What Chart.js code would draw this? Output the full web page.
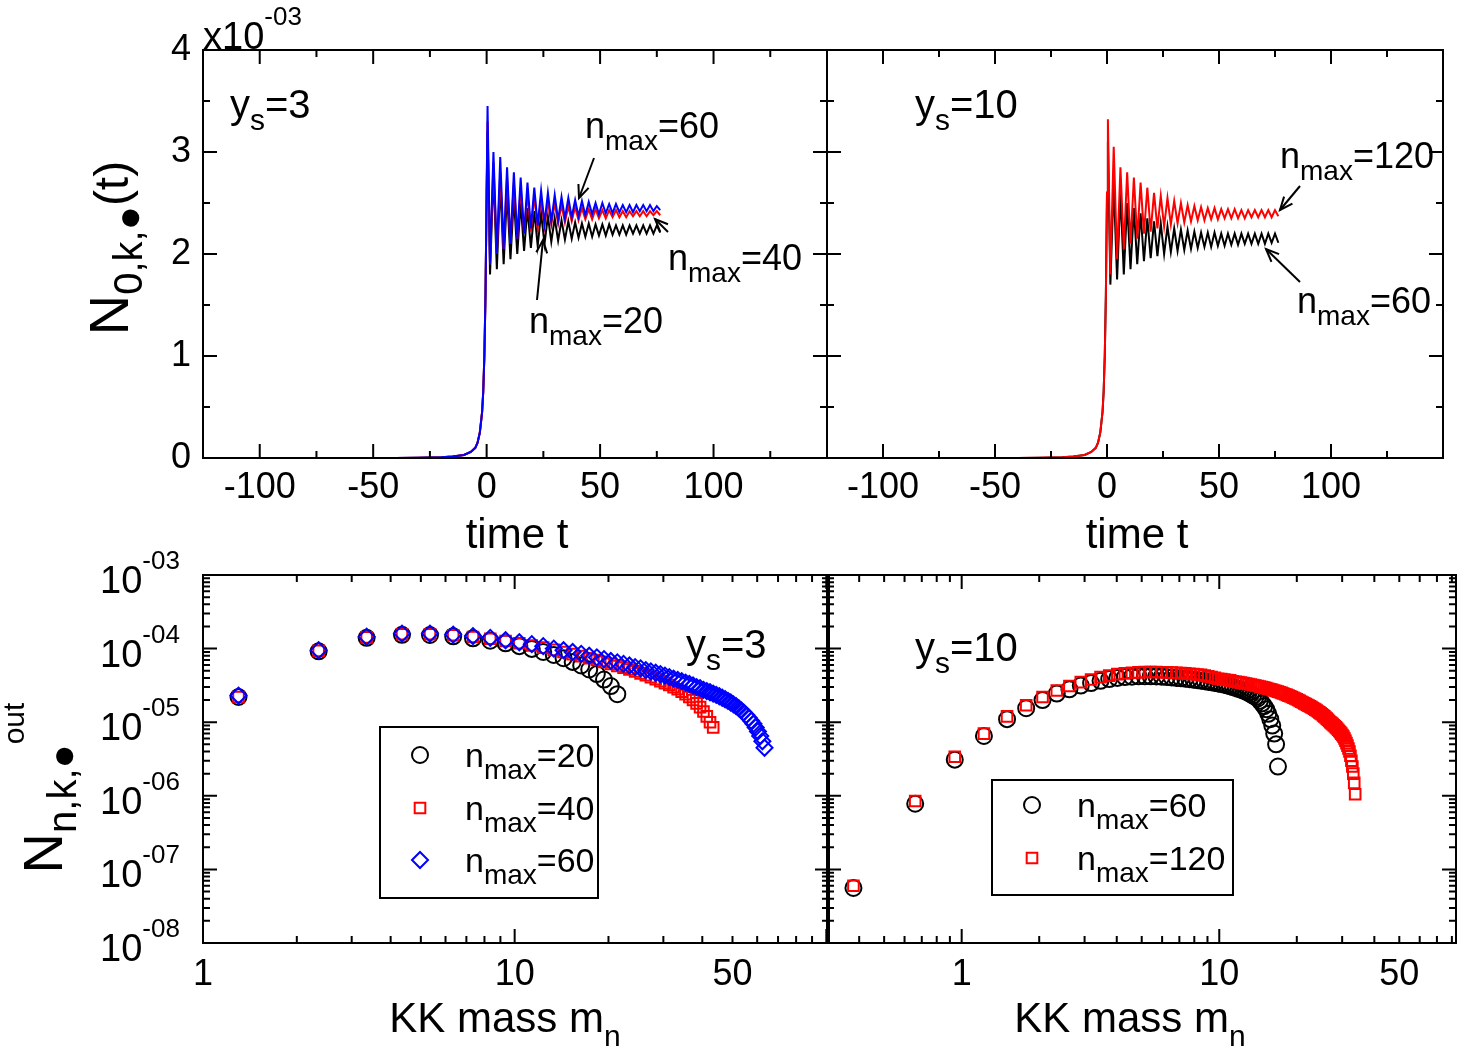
<!DOCTYPE html>
<html><head><meta charset="utf-8">
<script src="https://cdn.jsdelivr.net/npm/chart.js@4"></script>
<style>
body{margin:0;background:#fff;width:1458px;height:1056px;position:relative;overflow:hidden}
canvas{position:absolute}
</style></head><body>
<canvas id="tl" width="830" height="560" style="left:0;top:0"></canvas>
<canvas id="tr" width="658" height="560" style="left:800px;top:0"></canvas>
<canvas id="bl" width="839" height="536" style="left:0;top:520px"></canvas>
<canvas id="br" width="666" height="536" style="left:800px;top:520px"></canvas>
<script>
// ---------- DATA ----------
const tPre = [-125,-60,-40,-30,-20,-15,-10,-7,-5,-4,-3,-2,-1.5,-1,-0.5,0];
const risePre = [0,0,0.001,0.003,0.008,0.015,0.03,0.06,0.1,0.15,0.25,0.45,0.65,1.0,1.6,2.6];
const tPost = [0.4,1.5,3,4.5,6,7.5,9,10.5,12,13.5,15,16.5,18,19.5,21,22.5,24,25.5,27,28.5,30,31.5,33,34.5,36,37.5,39,40.5,42,43.5,45,46.5,48,49.5,51,52.5,54,55.5,57,58.5,60,61.5,63,64.5,66,67.5,69,70.5,72,73.5,75,76.5];
// values in units of 1e-3
const ys3_n60 = [3.45,1.9,3.0,2.0,2.95,2.05,2.85,2.1,2.8,2.15,2.75,2.2,2.7,2.25,2.65,2.28,2.62,2.3,2.6,2.32,2.58,2.33,2.56,2.35,2.55,2.36,2.53,2.37,2.52,2.38,2.51,2.39,2.5,2.39,2.5,2.4,2.49,2.4,2.49,2.41,2.48,2.41,2.48,2.41,2.48,2.42,2.48,2.42,2.48,2.42,2.47,2.43];
const ys3_n40 = [3.3,1.9,2.9,2.0,2.8,2.05,2.75,2.1,2.7,2.15,2.65,2.2,2.6,2.22,2.57,2.25,2.55,2.27,2.52,2.29,2.5,2.3,2.48,2.31,2.47,2.32,2.46,2.33,2.45,2.34,2.44,2.34,2.44,2.35,2.43,2.35,2.43,2.36,2.43,2.36,2.42,2.36,2.42,2.37,2.42,2.37,2.42,2.37,2.42,2.38,2.42,2.38];
const ys3_n20 = [3.2,1.8,2.8,1.85,2.7,1.9,2.6,1.95,2.55,2.0,2.5,2.03,2.45,2.06,2.42,2.08,2.4,2.1,2.37,2.12,2.35,2.13,2.33,2.14,2.32,2.15,2.31,2.16,2.3,2.17,2.3,2.17,2.29,2.18,2.29,2.18,2.29,2.19,2.28,2.19,2.28,2.19,2.28,2.2,2.28,2.2,2.28,2.2,2.28,2.2,2.28,2.21];
const ys10_n120 = [3.32,1.8,3.05,1.95,2.85,2.05,2.8,2.1,2.75,2.15,2.7,2.2,2.65,2.22,2.6,2.25,2.57,2.27,2.55,2.29,2.52,2.3,2.5,2.31,2.48,2.32,2.47,2.33,2.46,2.33,2.45,2.34,2.45,2.34,2.44,2.35,2.44,2.35,2.44,2.35,2.43,2.35,2.43,2.36,2.43,2.36,2.43,2.36,2.43,2.36,2.43,2.37];
const ys10_n60 = [3.1,1.7,2.7,1.75,2.6,1.8,2.5,1.85,2.45,1.9,2.4,1.93,2.35,1.96,2.32,1.98,2.3,2.0,2.27,2.02,2.25,2.03,2.24,2.04,2.23,2.05,2.22,2.06,2.21,2.07,2.21,2.07,2.21,2.08,2.2,2.08,2.2,2.09,2.2,2.09,2.2,2.1,2.2,2.1,2.2,2.1,2.2,2.1,2.2,2.11,2.2,2.11];

const mass3 = [1.3,2.35,3.35,4.35,5.35,6.35,7.35,8.35,9.35,10.35,11.35,12.35,13.35,14.35,15.35,16.35,17.35,18.35,19.35,20.35,21.35,22.35,23.35,24.35,25.35,26.35,27.35,28.35,29.35,30.35,31.35,32.35,33.35,34.35,35.35,36.35,37.35,38.35,39.35,40.35,41.35,42.35,43.35,44.35,45.35,46.35,47.35,48.35,49.35,50.35,51.35,52.35,53.35,54.35,55.35,56.35,57.35,58.35,59.35,60.35,61.35,62.35,63.35];
const out3_n60 = [2.3e-5,9.5e-5,1.45e-4,1.6e-4,1.6e-4,1.55e-4,1.48e-4,1.4e-4,1.3e-4,1.22e-4,1.15e-4,1.08e-4,1.0e-4,9.5e-5,9.0e-5,8.5e-5,8.0e-5,7.6e-5,7.2e-5,6.8e-5,6.5e-5,6.2e-5,5.9e-5,5.6e-5,5.4e-5,5.1e-5,4.9e-5,4.7e-5,4.5e-5,4.3e-5,4.1e-5,3.9e-5,3.75e-5,3.6e-5,3.45e-5,3.3e-5,3.15e-5,3.0e-5,2.9e-5,2.75e-5,2.65e-5,2.55e-5,2.45e-5,2.35e-5,2.25e-5,2.15e-5,2.05e-5,1.95e-5,1.85e-5,1.75e-5,1.65e-5,1.55e-5,1.45e-5,1.35e-5,1.25e-5,1.15e-5,1.05e-5,9.5e-6,8.5e-6,7.5e-6,6.5e-6,5.5e-6,4.5e-6];
const out3_n40 = [2.2e-5,9.3e-5,1.42e-4,1.57e-4,1.57e-4,1.52e-4,1.44e-4,1.36e-4,1.27e-4,1.18e-4,1.1e-4,1.03e-4,9.6e-5,9.0e-5,8.4e-5,7.9e-5,7.4e-5,7.0e-5,6.6e-5,6.2e-5,5.8e-5,5.5e-5,5.2e-5,4.9e-5,4.6e-5,4.35e-5,4.1e-5,3.85e-5,3.6e-5,3.4e-5,3.2e-5,3.0e-5,2.8e-5,2.6e-5,2.4e-5,2.2e-5,2.0e-5,1.8e-5,1.6e-5,1.4e-5,1.2e-5,1.0e-5,8.5e-6];
const out3_n20 = [2.2e-5,9.2e-5,1.4e-4,1.54e-4,1.53e-4,1.47e-4,1.38e-4,1.28e-4,1.18e-4,1.08e-4,9.9e-5,9.0e-5,8.2e-5,7.4e-5,6.6e-5,5.9e-5,5.2e-5,4.5e-5,3.8e-5,3.1e-5,2.4e-5];

const mass10 = [0.38,0.66,0.94,1.22,1.5,1.78,2.06,2.34,2.62,2.9,3.18,3.46,3.74,4.02,4.3,4.58,4.86,5.14,5.42,5.7,5.98,6.26,6.54,6.82,7.1,7.38,7.66,7.94,8.22,8.5,8.78,9.06,9.34,9.62,9.9,10.18,10.46,10.74,11.02,11.3,11.58,11.86,12.14,12.42,12.7,12.98,13.26,13.54,13.82,14.1,14.38,14.66,14.94,15.22,15.5,15.78,16.06,16.34,16.62,16.9,17.18,17.46,17.74,18.02,18.3,18.58,18.86,19.14,19.42,19.7,19.98,20.26,20.54,20.82,21.1,21.38,21.66,21.94,22.22,22.5,22.78,23.06,23.34,23.62,23.9,24.18,24.46,24.74,25.02,25.3,25.58,25.86,26.14,26.42,26.7,26.98,27.26,27.54,27.82,28.1,28.38,28.66,28.94,29.22,29.5,29.78,30.06,30.34,30.62,30.9,31.18,31.46,31.74,32.02,32.3,32.58,32.86,33.14,33.42,33.7];
const out10_n120 = [6.0e-8,8.5e-7,3.4e-6,7.0e-6,1.2e-5,1.7e-5,2.2e-5,2.7e-5,3.1e-5,3.5e-5,3.8e-5,4.1e-5,4.3e-5,4.5e-5,4.6e-5,4.7e-5,4.75e-5,4.8e-5,4.8e-5,4.8e-5,
4.78e-5,4.75e-5,4.72e-5,4.68e-5,4.64e-5,4.6e-5,4.55e-5,4.5e-5,4.45e-5,4.4e-5,4.3e-5,4.2e-5,4.1e-5,4.0e-5,3.9e-5,3.85e-5,3.8e-5,3.75e-5,3.7e-5,3.6e-5,
3.55e-5,3.5e-5,3.45e-5,3.4e-5,3.35e-5,3.3e-5,3.25e-5,3.2e-5,3.15e-5,3.1e-5,3.05e-5,3.0e-5,2.95e-5,2.9e-5,2.85e-5,2.8e-5,2.75e-5,2.7e-5,2.65e-5,2.6e-5,
2.55e-5,2.5e-5,2.45e-5,2.4e-5,2.35e-5,2.3e-5,2.25e-5,2.2e-5,2.15e-5,2.1e-5,2.05e-5,2.0e-5,1.95e-5,1.9e-5,1.85e-5,1.8e-5,1.76e-5,1.72e-5,1.68e-5,1.64e-5,
1.6e-5,1.56e-5,1.52e-5,1.48e-5,1.44e-5,1.4e-5,1.36e-5,1.32e-5,1.28e-5,1.24e-5,1.2e-5,1.16e-5,1.12e-5,1.08e-5,1.04e-5,1.0e-5,9.7e-6,9.4e-6,9.1e-6,8.8e-6,
8.5e-6,8.2e-6,7.9e-6,7.6e-6,7.3e-6,7.0e-6,6.7e-6,6.4e-6,6.0e-6,5.6e-6,5.2e-6,4.8e-6,4.4e-6,4.0e-6,3.5e-6,3.0e-6,2.5e-6,2.0e-6,1.5e-6,1.05e-6];
const out10_n60 = [5.6e-8,7.8e-7,3.1e-6,6.5e-6,1.1e-5,1.55e-5,2.0e-5,2.45e-5,2.8e-5,3.15e-5,3.4e-5,3.65e-5,3.85e-5,4.0e-5,4.1e-5,4.15e-5,4.2e-5,4.2e-5,4.2e-5,4.18e-5,
4.15e-5,4.1e-5,4.05e-5,4.0e-5,3.95e-5,3.9e-5,3.84e-5,3.78e-5,3.72e-5,3.66e-5,3.6e-5,3.54e-5,3.48e-5,3.42e-5,3.36e-5,3.3e-5,3.23e-5,3.16e-5,3.09e-5,3.0e-5,
2.92e-5,2.84e-5,2.76e-5,2.68e-5,2.6e-5,2.5e-5,2.4e-5,2.3e-5,2.2e-5,2.1e-5,1.95e-5,1.8e-5,1.65e-5,1.5e-5,1.3e-5,1.1e-5,9e-6,7e-6,5e-6,2.5e-6];

const topXTicks = [-100,-50,0,50,100];
const topYTicks = [0,1,2,3,4];
const botXTicks = [1,10,50];
const botYExps = [-3,-4,-5,-6,-7,-8];

// ---------- HELPERS ----------
const FONT = '"Liberation Sans", Arial, Helvetica, sans-serif';
const OFF = 520; // top of bottom canvases
function series(tA, pre, tB, post){
  const pts=[]; tA.forEach((t,i)=>pts.push({x:t,y:pre[i]})); tB.forEach((t,i)=>pts.push({x:t,y:post[i]})); return pts;
}
function pairs(xs, ys){ return ys.map((v,i)=>({x:xs[i],y:v})); }
function rich(ctx, x, y, parts, align){
  let w=0; parts.forEach(p=>{ctx.font=p[1]+'px '+FONT; w+=ctx.measureText(p[0]).width;});
  let cx = align==='center'? x-w/2 : align==='right'? x-w : x;
  ctx.textBaseline='alphabetic'; ctx.textAlign='left'; ctx.fillStyle='#000';
  parts.forEach(p=>{ctx.font=p[1]+'px '+FONT; ctx.fillText(p[0],cx,y+p[2]); cx+=ctx.measureText(p[0]).width;});
}
function arrow(ctx,x1,y1,x2,y2){
  ctx.save(); ctx.strokeStyle='#000'; ctx.lineWidth=2;
  ctx.beginPath(); ctx.moveTo(x1,y1); ctx.lineTo(x2,y2); ctx.stroke();
  const a=Math.atan2(y2-y1,x2-x1), L=14;
  ctx.beginPath();
  ctx.moveTo(x2-L*Math.cos(a-0.4),y2-L*Math.sin(a-0.4)); ctx.lineTo(x2,y2);
  ctx.lineTo(x2-L*Math.cos(a+0.4),y2-L*Math.sin(a+0.4)); ctx.stroke(); ctx.restore();
}
function frameTicks(chart, xMaj, xMin, yMaj, yMin){
  const ctx=chart.ctx, a=chart.chartArea, x=chart.scales.x, y=chart.scales.y;
  ctx.save(); ctx.strokeStyle='#000'; ctx.lineWidth=2;
  ctx.strokeRect(a.left,a.top,a.right-a.left,a.bottom-a.top);
  const tk=(vals,len)=>{
    vals.forEach(v=>{const p=x.getPixelForValue(v); if(p<a.left+1||p>a.right-1) return;
      ctx.beginPath(); ctx.moveTo(p,a.bottom); ctx.lineTo(p,a.bottom-len); ctx.moveTo(p,a.top); ctx.lineTo(p,a.top+len); ctx.stroke();});
  };
  const tky=(vals,len)=>{
    vals.forEach(v=>{const p=y.getPixelForValue(v); if(p<a.top+1||p>a.bottom-1) return;
      ctx.beginPath(); ctx.moveTo(a.left,p); ctx.lineTo(a.left+len,p); ctx.moveTo(a.right,p); ctx.lineTo(a.right-len,p); ctx.stroke();});
  };
  tk(xMaj,14); tk(xMin,7); tky(yMaj,14); tky(yMin,7);
  ctx.restore();
}
function logMinors(lo,hi){ const r=[]; for(let e=lo;e<hi;e++) for(let k=2;k<=9;k++) r.push(k*Math.pow(10,e)); return r; }

const DECO = {};
Chart.register({id:'deco', afterDraw(chart){ const f=DECO[chart.canvas.id]; if(f) f(chart, chart.ctx); }});

function topChart(id, datasets, yLeft, rightPad, showY, fn){
  DECO[id]=fn;
  return new Chart(document.getElementById(id), {
    type:'line', data:{datasets},
    options:{responsive:false, animation:false, devicePixelRatio:1,
      layout:{padding:{top:50,right:rightPad,left:0,bottom:0}},
      plugins:{legend:{display:false}, tooltip:{enabled:false}},
      elements:{point:{radius:0}, line:{borderWidth:2, tension:0}},
      scales:{
        x:{type:'linear', min:-125, max:150, grid:{display:false, drawTicks:false}, border:{display:false},
           afterBuildTicks:s=>{s.ticks=topXTicks.map(v=>({value:v}));},
           afterFit:s=>{s.height=102;},
           ticks:{font:{family:FONT,size:36}, color:'#000', padding:8, maxRotation:0, autoSkip:false}},
        y:{type:'linear', min:0, max:4, grid:{display:false, drawTicks:false}, border:{display:false},
           afterBuildTicks:s=>{s.ticks=topYTicks.map(v=>({value:v}));},
           afterFit:s=>{s.width=yLeft;},
           ticks:{display:showY, font:{family:FONT,size:36}, color:'#000', padding:12}}
      }}
  });
}
function botChart(id, datasets, yLeft, rightPad, xmin, xmax, fn){
  DECO[id]=fn;
  return new Chart(document.getElementById(id), {
    type:'scatter', data:{datasets},
    options:{responsive:false, animation:false, devicePixelRatio:1,
      layout:{padding:{top:575-OFF,right:rightPad,left:0,bottom:0}},
      plugins:{legend:{display:false}, tooltip:{enabled:false}},
      scales:{
        x:{type:'logarithmic', min:xmin, max:xmax, grid:{display:false, drawTicks:false}, border:{display:false},
           afterBuildTicks:s=>{s.ticks=botXTicks.map(v=>({value:v}));},
           afterFit:s=>{s.height=113;},
           ticks:{font:{family:FONT,size:36}, color:'#000', padding:10, maxRotation:0, autoSkip:false, callback:v=>String(v)}},
        y:{type:'logarithmic', min:1e-8, max:1e-3, grid:{display:false, drawTicks:false}, border:{display:false},
           afterFit:s=>{s.width=yLeft;}, ticks:{display:false}}
      }}
  });
}

const BLACK='#000', RED='#ff0000', BLUE='#0000ff';
function lineDs(pts,c){return {data:pts, borderColor:c, showLine:true, pointRadius:0, fill:false};}
const xmTop=[-125,-75,-25,25,75,125], ymTop=[0.5,1.5,2.5,3.5];

topChart('tl', [
  lineDs(series(tPre,risePre,tPost,ys3_n60),BLUE),
  lineDs(series(tPre,risePre,tPost,ys3_n40),RED),
  lineDs(series(tPre,risePre,tPost,ys3_n20),BLACK)
], 203, 3, true, (ch,ctx)=>{
  frameTicks(ch, topXTicks, xmTop, topYTicks, ymTop);
  rich(ctx,203,49,[['x10',38,0],['-03',26,-24]]);
  rich(ctx,230,118,[['y',40,0],['s',30,12],['=3',40,0]]);
  rich(ctx,585,138,[['n',36,0],['max',28,12],['=60',36,0]]);
  arrow(ctx,594,158,579,198);
  rich(ctx,668,270,[['n',36,0],['max',28,12],['=40',36,0]]);
  arrow(ctx,668,232,655,219);
  rich(ctx,529,333,[['n',36,0],['max',28,12],['=20',36,0]]);
  arrow(ctx,537,300,543,240);
  ctx.save(); ctx.translate(128,248); ctx.rotate(-Math.PI/2);
  rich(ctx,0,0,[['N',56,0],['0,k,●',40,14],['(t)',48,0]],'center'); ctx.restore();
  rich(ctx,517,548,[['time t',42,0]],'center');
});
topChart('tr', [
  lineDs(series(tPre,risePre,tPost,ys10_n120),RED),
  lineDs(series(tPre,risePre,tPost,ys10_n60),BLACK)
], 27, 15, false, (ch,ctx)=>{
  frameTicks(ch, topXTicks, xmTop, topYTicks, ymTop);
  rich(ctx,115,118,[['y',40,0],['s',30,12],['=10',40,0]]);
  rich(ctx,480,168,[['n',36,0],['max',28,12],['=120',36,0]]);
  arrow(ctx,500,186,480,210);
  rich(ctx,497,313,[['n',36,0],['max',28,12],['=60',36,0]]);
  arrow(ctx,500,282,466,249);
  rich(ctx,337,548,[['time t',42,0]],'center');
});
function legendBox(ctx,x,y,w,h,items){
  ctx.save(); ctx.strokeStyle='#000'; ctx.lineWidth=2; ctx.strokeRect(x,y,w,h); ctx.restore();
  items.forEach(it=>{
    ctx.save(); ctx.strokeStyle=it.c; ctx.fillStyle='rgba(0,0,0,0)'; ctx.lineWidth=2;
    Chart.helpers.drawPoint(ctx,{pointStyle:it.s,radius:it.r,borderWidth:2},x+40,it.y);
    ctx.restore();
    rich(ctx,x+85,it.y+12,[['n',34,0],['max',28,12],['='+it.t,34,0]]);
  });
}
const dBlack={pointStyle:'circle',pointRadius:8,borderColor:BLACK,backgroundColor:'rgba(0,0,0,0)',borderWidth:2};
const dRed={pointStyle:'rect',pointRadius:7.5,borderColor:RED,backgroundColor:'rgba(0,0,0,0)',borderWidth:2};
const dBlue={pointStyle:'rectRot',pointRadius:8,borderColor:BLUE,backgroundColor:'rgba(0,0,0,0)',borderWidth:2};

botChart('bl', [
  Object.assign({data:pairs(mass3,out3_n60)},dBlue),
  Object.assign({data:pairs(mass3,out3_n40)},dRed),
  Object.assign({data:pairs(mass3,out3_n20)},dBlack)
], 203, 3, 1, 102, (ch,ctx)=>{
  frameTicks(ch, [1,10,100], logMinors(0,2), botYExps.map(e=>Math.pow(10,e)), logMinors(-8,-3));
  const ys=ch.scales.y;
  botYExps.forEach(e=>{ const p=ys.getPixelForValue(Math.pow(10,e));
    rich(ctx,100,p+18,[['10',38,0],['-0'+(-e),26,-24]]); });
  rich(ctx,686,658-OFF,[['y',40,0],['s',30,12],['=3',40,0]]);
  legendBox(ctx,380,727-OFF,218,171,[{s:'circle',r:8,c:BLACK,t:'20',y:755-OFF},{s:'rect',r:7.5,c:RED,t:'40',y:808-OFF},{s:'rectRot',r:8,c:BLUE,t:'60',y:860-OFF}]);
  ctx.save(); ctx.translate(62,788-OFF); ctx.rotate(-Math.PI/2);
  rich(ctx,0,0,[['N',56,0],['n,k,●',40,14],['out',30,-38]],'center'); ctx.restore();
  rich(ctx,505,1032-OFF,[['KK mass m',42,0],['n',30,14]],'center');
});
botChart('br', [
  Object.assign({data:pairs(mass10,out10_n120)},dRed),
  Object.assign({data:pairs(mass10,out10_n60)},dBlack)
], 27, 3, 0.305, 83, (ch,ctx)=>{
  frameTicks(ch, [1,10], logMinors(-1,2), botYExps.map(e=>Math.pow(10,e)), logMinors(-8,-3));
  rich(ctx,115,661-OFF,[['y',40,0],['s',30,12],['=10',40,0]]);
  legendBox(ctx,192,780-OFF,241,115,[{s:'circle',r:8,c:BLACK,t:'60',y:805-OFF},{s:'rect',r:7.5,c:RED,t:'120',y:858-OFF}]);
  rich(ctx,330,1032-OFF,[['KK mass m',42,0],['n',30,14]],'center');
});
</script></body></html>
